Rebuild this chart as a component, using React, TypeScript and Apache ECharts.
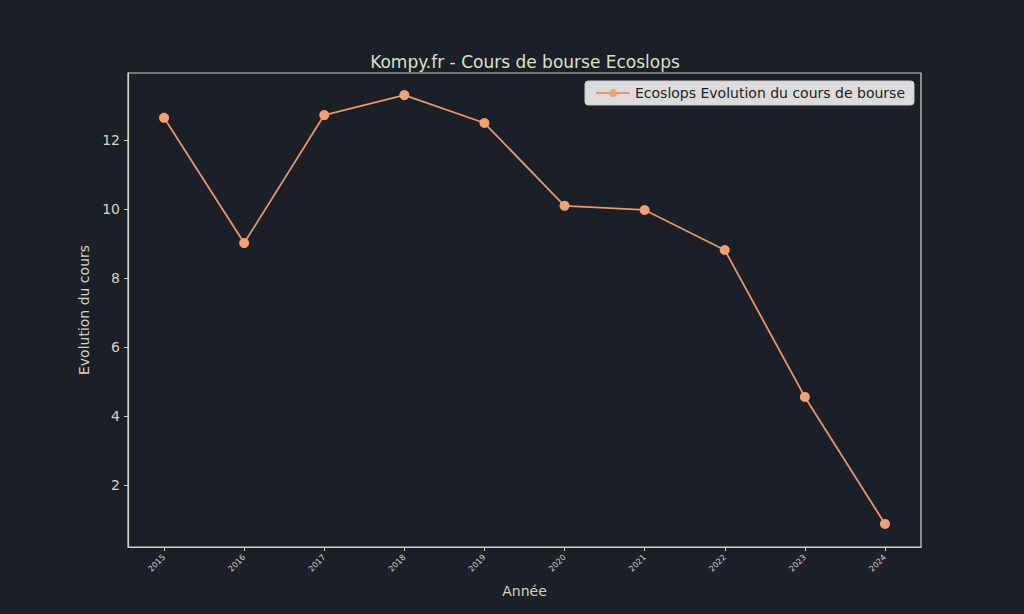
import React, { useEffect, useRef } from "react";
import * as echarts from "echarts";

const years = [2015, 2016, 2017, 2018, 2019, 2020, 2021, 2022, 2023, 2024];
const prices = [12.64, 9.01, 12.72, 13.3, 12.49, 10.09, 9.97, 8.81, 4.55, 0.87];
const yTicks = [2, 4, 6, 8, 10, 12];
const seriesName = "Ecoslops Evolution du cours de bourse";
const titleText = "Kompy.fr - Cours de bourse Ecoslops";

export default function App() {
  const ref = useRef<HTMLDivElement>(null);
  useEffect(() => {
    if (!ref.current) return;
    const chart = echarts.init(ref.current, undefined, { renderer: "svg" });
    const fg = "#d4d4c4";
    const font = "DejaVu Sans";
    chart.setOption({
      animation: false,
      backgroundColor: "#1b1f27",
      textStyle: { fontFamily: font },
      title: {
        text: titleText,
        left: 520,
        top: 48,
        textAlign: "center",
        textStyle: { color: "#dde0c8", fontSize: 17, fontWeight: "normal", fontFamily: font },
      },
      legend: {
        right: 110,
        top: 81,
        backgroundColor: "#dcdcdc",
        borderColor: "#c8c8c8",
        borderWidth: 1,
        borderRadius: 3,
        padding: [5, 9, 5, 10],
        itemWidth: 34,
        itemHeight: 10,
        itemGap: 10,
        textStyle: { color: "#222222", fontSize: 14, fontFamily: font },
        data: [{ name: seriesName }],
      },
      grid: {
        left: 128,
        right: 103,
        top: 73,
        bottom: 67,
        show: true,
        borderColor: fg,
        borderWidth: 1.2,
        backgroundColor: "transparent",
      },
      xAxis: {
        type: "value",
        min: 2014.55,
        max: 2024.45,
        name: "Année",
        nameLocation: "middle",
        nameGap: 37,
        nameTextStyle: { color: fg, fontSize: 14, fontFamily: font },
        axisLine: { show: true, lineStyle: { color: fg, width: 1.2 } },
        axisTick: { show: true, length: 4, customValues: years, lineStyle: { color: fg } },
        axisLabel: {
          customValues: years,
          rotate: 45,
          fontSize: 8,
          color: fg,
          margin: 9,
          formatter: (v: number) => String(v),
        },
        splitLine: { show: false },
      },
      yAxis: {
        type: "value",
        min: 0.2,
        max: 13.94,
        name: "Evolution du cours",
        nameLocation: "middle",
        nameGap: 36,
        nameTextStyle: { color: fg, fontSize: 14, fontFamily: font },
        axisLine: { show: true, lineStyle: { color: fg, width: 1.2 } },
        axisTick: { show: true, length: 4, customValues: yTicks, lineStyle: { color: fg } },
        axisLabel: {
          customValues: yTicks,
          fontSize: 14,
          color: fg,
          margin: 8,
          formatter: (v: number) => String(v),
        },
        splitLine: { show: false },
      },
      series: [
        {
          name: seriesName,
          type: "line",
          data: years.map((y, i) => [y, prices[i]]),
          symbol: "circle",
          symbolSize: 10,
          lineStyle: { color: "#e8956a", width: 1.8 },
          itemStyle: { color: "#f4a070" },
        },
      ],
    });
    return () => chart.dispose();
  }, []);
  return <div ref={ref} style={{ width: 1024, height: 614, position: "absolute", left: 0, top: 0 }} />;
}
